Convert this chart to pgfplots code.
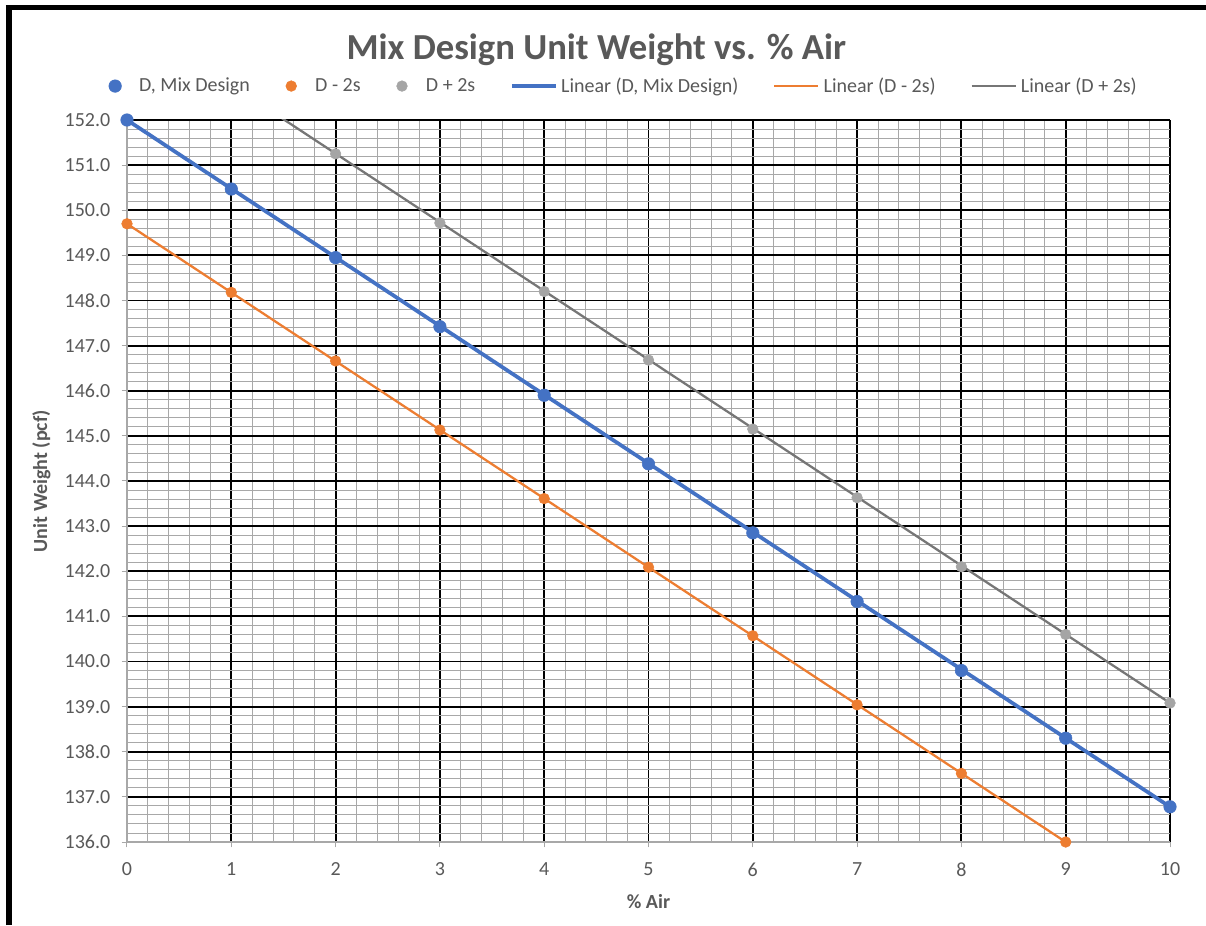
\documentclass[border=0pt]{standalone}
\usepackage{pgfplots}
\pgfplotsset{compat=1.18}
\usepackage{fontspec}
\setmainfont{Carlito}
\definecolor{cblue}{HTML}{4472C4}
\definecolor{corange}{HTML}{ED7D31}
\definecolor{cgray}{HTML}{A5A5A5}
\definecolor{cgrayline}{HTML}{767676}
\definecolor{gridminor}{HTML}{A8A8A8}
\definecolor{txt}{HTML}{595959}
\pgfplotsset{
  markleg/.style={legend image code/.code={%
    \path[draw=none,fill=none] (-5pt,0pt) (16pt,0pt);
    \draw[##1, mark repeat=1, mark phase=1] plot coordinates {(0pt,0pt)};}},
  lineleg/.style={legend image code/.code={%
    \path[draw=none,fill=none] (0pt,0pt) (35pt,0pt);
    \draw[##1] (0pt,0pt) -- (33pt,0pt);}},
}
\begin{document}
\begin{tikzpicture}[x=1pt,y=1pt]
\useasboundingbox[fill=white] (-95.25,-62.25) rectangle (809.25,631.5);
\begin{axis}[
  at={(0,0)}, anchor=south west,
  scale only axis, width=782.25pt, height=541.5pt,
  xmin=0, xmax=10, ymin=136, ymax=152,
  xtick={0,1,...,10}, ytick={136,137,...,152},
  minor x tick num=4, minor y tick num=4,
  grid=both,
  major grid style={black, line width=1.4pt},
  minor grid style={gridminor, line width=0.7pt},
  axis x line*=bottom, axis y line*=left,
  axis line style={gridminor, line width=0.9pt},
  tick align=outside, major tick length=4pt, minor tick length=0pt,
  tick style={gridminor, line width=0.75pt},
  ticklabel style={font=\fontsize{15}{18}\selectfont, text=txt},
  /pgf/number format/assume math mode=true,
  yticklabel style={xshift=-5pt, /pgf/number format/fixed, /pgf/number format/fixed zerofill, /pgf/number format/precision=1},
  xticklabel style={yshift=-8pt},
  xlabel={\% Air}, ylabel={Unit Weight (pcf)},
  label style={font=\fontsize{15}{18}\selectfont\bfseries, text=txt},
  xlabel style={at={(axis description cs:0.5,-0.083)}, anchor=center},
  ylabel style={at={(axis description cs:-0.082,0.5)}, anchor=center},
  legend columns=6,
  legend style={at={(axis description cs:0.4765,1.047)}, anchor=center, draw=none, fill=none,
    font=\fontsize{15}{18}\selectfont, text=txt,
    /tikz/every even column/.append style={column sep=24pt}},
  clip=true,
]
% trendlines (drawn first, under markers)
\addplot[forget plot, no marks, cgrayline, line width=1.7pt] coordinates {
(0,154.30) (10,139.08)};
\addplot[forget plot, no marks, corange, line width=1.7pt] coordinates {
(0,149.70) (9,136.00)};
\addplot[forget plot, no marks, cblue, line width=2.8pt] coordinates {
(0,152.00) (10,136.78)};
% data points
\addplot[only marks, mark=*, mark size=4.7pt, cblue, markleg] coordinates {
(0,152.00) (1,150.47) (2,148.95) (3,147.42) (4,145.90) (5,144.38)
(6,142.85) (7,141.33) (8,139.80) (9,138.30) (10,136.78)};
\addlegendentry{D, Mix Design}
\addplot[only marks, mark=*, mark size=4pt, corange, markleg] coordinates {
(0,149.70) (1,148.18) (2,146.66) (3,145.13) (4,143.61) (5,142.09)
(6,140.57) (7,139.04) (8,137.52) (9,136.00)};
\addlegendentry{D - 2s}
\addplot[only marks, mark=*, mark size=4pt, cgray, markleg] coordinates {
(2,151.25) (3,149.72) (4,148.20) (5,146.68) (6,145.15) (7,143.63)
(8,142.10) (9,140.60) (10,139.08)};
\addlegendentry{D + 2s}
\addlegendimage{no marks, cblue, line width=2.8pt, lineleg}
\addlegendentry{Linear (D, Mix Design)}
\addlegendimage{no marks, corange, line width=1.7pt, lineleg}
\addlegendentry{Linear (D - 2s)}
\addlegendimage{no marks, cgrayline, line width=1.7pt, lineleg}
\addlegendentry{Linear (D + 2s)}
\end{axis}
\node[anchor=base, font=\fontsize{27.5}{32}\selectfont\bfseries, text=txt] at (352,587) {Mix Design Unit Weight vs. \% Air};
\draw[line width=4.5pt] (-88.5,-62.25) -- (-88.5,625.9);
\draw[line width=3.75pt] (-90.75,625.9) -- (809.25,625.9);
\end{tikzpicture}
\end{document}
